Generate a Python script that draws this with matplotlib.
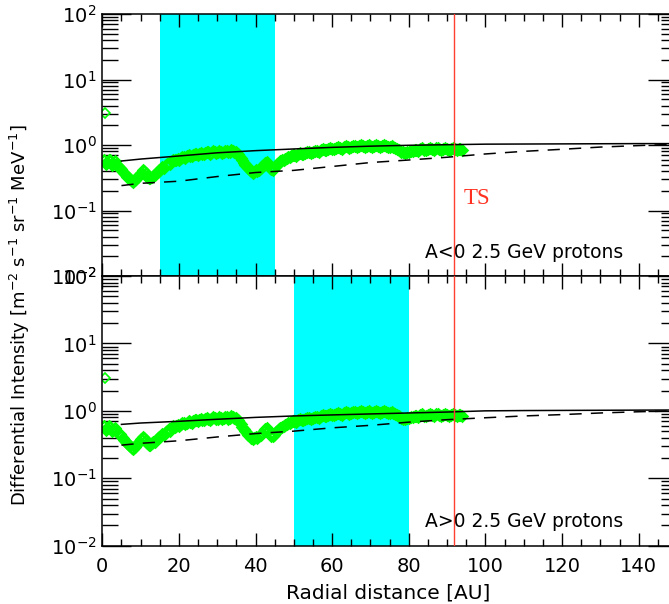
import numpy as np
import matplotlib
matplotlib.use('Agg')
import matplotlib.pyplot as plt
from matplotlib.ticker import MultipleLocator, LogLocator, NullFormatter

# Voyager 2.5 GeV proton intensities vs radial distance (AU)
vgr_r = [0.5, 1.3, 2.1, 2.9, 3.7, 4.5, 5.3, 6.1, 6.9, 7.7, 8.5, 9.3, 10.1, 10.9,
         11.7, 12.5, 13.3, 14.1, 14.9, 15.7, 16.5, 17.3, 18.1, 18.9, 19.7, 20.5,
         21.3, 22.1, 22.9, 23.7, 24.5, 25.3, 26.1, 26.9, 27.7, 28.5, 29.3, 30.1,
         30.9, 31.7, 32.5, 33.3, 34.1, 34.9, 35.7, 36.5, 37.3, 38.1, 38.9, 39.7,
         40.5, 41.3, 42.1, 42.9, 43.7, 44.5, 45.3, 46.1, 46.9, 47.7, 48.5, 49.3,
         50.1, 51.0, 52.0, 53.0, 54.0, 55.0, 56.0, 57.0, 58.0, 59.0, 60.0, 61.0,
         62.0, 63.0, 64.0, 65.0, 66.0, 67.0, 68.0, 69.0, 70.0, 71.0, 72.0, 73.0,
         74.0, 75.0, 76.0, 77.0, 78.0, 79.0, 80.0, 81.0, 82.0, 83.0, 84.0, 85.0,
         86.0, 87.0, 88.0, 89.0, 90.0, 91.0, 92.0, 93.0, 93.8]
vgr_j = [0.60, 0.55, 0.58, 0.52, 0.50, 0.45, 0.39, 0.35, 0.31, 0.28, 0.29, 0.33, 0.38, 0.40,
         0.33, 0.31, 0.34, 0.37, 0.41, 0.46, 0.49, 0.53, 0.56, 0.58, 0.61, 0.63,
         0.65, 0.67, 0.69, 0.70, 0.72, 0.73, 0.74, 0.75, 0.77, 0.76, 0.78, 0.77,
         0.79, 0.78, 0.80, 0.79, 0.81, 0.78, 0.68, 0.58, 0.50, 0.44, 0.40, 0.39,
         0.40, 0.44, 0.50, 0.55, 0.45, 0.42, 0.48, 0.53, 0.58, 0.61, 0.65, 0.68,
         0.70, 0.72, 0.74, 0.75, 0.78, 0.79, 0.81, 0.83, 0.85, 0.86, 0.88, 0.89,
         0.90, 0.92, 0.92, 0.94, 0.95, 0.95, 0.96, 0.97, 0.96, 0.97, 0.96, 0.97,
         0.95, 0.94, 0.93, 0.88, 0.79, 0.76, 0.79, 0.82, 0.84, 0.86, 0.85, 0.88,
         0.87, 0.89, 0.86, 0.88, 0.87, 0.86, 0.87, 0.86, 0.85]
# second pass of daily values, slightly offset from the first
vgr_r2 = [0.9, 1.7, 2.5, 3.3, 4.1, 4.9, 5.7, 6.5, 7.3, 8.1, 8.9, 9.7, 10.5, 11.3,
          12.1, 12.9, 13.7, 14.5, 15.3, 16.1, 16.9, 17.7, 18.5, 19.3, 20.1, 20.9,
          21.7, 22.5, 23.3, 24.1, 24.9, 25.7, 26.5, 27.3, 28.1, 28.9, 29.7, 30.5,
          31.3, 32.1, 32.9, 33.7, 34.5, 35.3, 36.1, 36.9, 37.7, 38.5, 39.3, 40.1,
          40.9, 41.7, 42.5, 43.3, 44.1, 44.9, 45.7, 46.5, 47.3, 48.1, 48.9, 49.7,
          50.5, 51.5, 52.5, 53.5, 54.5, 55.5, 56.5, 57.5, 58.5, 59.5, 60.5, 61.5,
          62.5, 63.5, 64.5, 65.5, 66.5, 67.5, 68.5, 69.5, 70.5, 71.5, 72.5, 73.5,
          74.5, 75.5, 76.5, 77.5, 78.5, 79.5, 80.5, 81.5, 82.5, 83.5, 84.5, 85.5,
          86.5, 87.5, 88.5, 89.5, 90.5, 91.5, 92.5, 93.4]
vgr_j2 = [0.52, 0.60, 0.50, 0.56, 0.47, 0.43, 0.37, 0.33, 0.30, 0.27, 0.31, 0.35, 0.41, 0.37,
          0.31, 0.33, 0.35, 0.39, 0.43, 0.44, 0.51, 0.51, 0.59, 0.60, 0.59, 0.66,
          0.63, 0.70, 0.67, 0.73, 0.70, 0.76, 0.72, 0.78, 0.74, 0.80, 0.75, 0.81,
          0.76, 0.82, 0.77, 0.84, 0.78, 0.74, 0.63, 0.54, 0.47, 0.42, 0.38, 0.41,
          0.42, 0.47, 0.53, 0.50, 0.43, 0.44, 0.51, 0.56, 0.60, 0.64, 0.66, 0.70,
          0.68, 0.75, 0.72, 0.78, 0.76, 0.82, 0.79, 0.86, 0.83, 0.89, 0.86, 0.92,
          0.88, 0.95, 0.90, 0.97, 0.93, 0.99, 0.94, 1.00, 0.94, 0.99, 0.93, 0.99,
          0.92, 0.97, 0.90, 0.83, 0.77, 0.78, 0.81, 0.85, 0.82, 0.89, 0.83, 0.90,
          0.85, 0.91, 0.84, 0.90, 0.85, 0.89, 0.84, 0.88]
# single 1 AU point
r_1au = [0.8]
j_1au = [3.1]

# model curves
mod_r = [5, 10, 20, 30, 40, 50, 60, 70, 80, 90, 100, 110, 120, 130, 140, 150]
neg_solid = [0.57, 0.61, 0.68, 0.76, 0.82, 0.87, 0.92, 0.96, 0.99, 1.01, 1.03, 1.035, 1.04, 1.045, 1.05, 1.05]
neg_dash = [0.24, 0.26, 0.28, 0.33, 0.38, 0.41, 0.47, 0.54, 0.59, 0.65, 0.73, 0.80, 0.86, 0.93, 0.98, 1.03]
pos_solid = [0.63, 0.66, 0.70, 0.75, 0.80, 0.84, 0.87, 0.90, 0.93, 0.96, 1.00, 1.01, 1.015, 1.02, 1.025, 1.03]
pos_dash = [0.31, 0.33, 0.36, 0.41, 0.46, 0.50, 0.56, 0.61, 0.68, 0.74, 0.79, 0.84, 0.88, 0.93, 0.97, 1.00]

ts_pos = 91.7
shade = [(15, 45), (50, 80)]
labels = ['A<0 2.5 GeV protons', 'A>0 2.5 GeV protons']

W, H = 669, 604
fig = plt.figure(figsize=(W/100, H/100), dpi=100)
left = 102.3/W
width = (677 - 102.3)/W
ax1 = fig.add_axes([left, (H-276)/H, width, 262/H])
ax2 = fig.add_axes([left, (H-545.7)/H, width, 269.7/H])

panels = [(ax1, neg_solid, neg_dash), (ax2, pos_solid, pos_dash)]
for k, (ax, solid, dash) in enumerate(panels):
    ax.axvspan(shade[k][0], shade[k][1], color='#00ffff', lw=0, zorder=0)
    for rr, jj in [(vgr_r, vgr_j), (vgr_r2, vgr_j2)]:
        ax.plot(rr, jj, ls='none', marker='D', ms=5.0, mfc='none',
                mec='#00ff00', mew=1.8, zorder=2)
    ax.plot(r_1au, j_1au, ls='none', marker='D', ms=5.5, mfc='none',
            mec='#00ff00', mew=1.2, zorder=2)
    ax.plot(mod_r, solid, color='black', lw=1.1, zorder=3)
    ax.plot(mod_r, dash, color='black', lw=1.1, ls=(0, (8, 6)), zorder=3)
    ax.axvline(ts_pos, color='#ff4030', lw=1.0, zorder=4)

    ax.set_yscale('log')
    ax.set_ylim(1e-2, 1e2)
    ax.set_xlim(0, 150)
    ax.xaxis.set_major_locator(MultipleLocator(20))
    ax.xaxis.set_minor_locator(MultipleLocator(5))
    ax.yaxis.set_major_locator(LogLocator(base=10, numticks=10))
    ax.yaxis.set_minor_locator(LogLocator(base=10, subs=np.arange(2, 10), numticks=10))
    ax.yaxis.set_minor_formatter(NullFormatter())
    ax.tick_params(which='both', direction='in', top=True, right=True, width=1.0,
                   labelsize=14, color='black')
    ax.tick_params(axis='y', which='major', length=21, pad=4)
    ax.tick_params(axis='y', which='minor', length=11.5)
    ax.tick_params(axis='x', which='major', length=9.5, pad=8)
    ax.tick_params(axis='x', which='minor', length=5)
    for sp in ax.spines.values():
        sp.set_linewidth(1.1)

    ax.text(84.2, 0.019, labels[k], fontsize=13.5, ha='left', va='baseline')

ax1.tick_params(axis='x', labelbottom=False)
ax1.text(94.3, 0.15, 'TS', color='#ff3020', fontsize=16.5,
         family=['Liberation Serif', 'DejaVu Serif'], ha='left', va='center')

fig.text(20/W, 1 - 315/H, r'Differential Intensity [m$^{-2}$ s$^{-1}$ sr$^{-1}$ MeV$^{-1}$]',
         rotation=90, ha='center', va='center', fontsize=13)
fig.text(388/W, 1 - 593/H, 'Radial distance [AU]', ha='center', va='center', fontsize=14.5)

fig.savefig('out.png', dpi=100)
